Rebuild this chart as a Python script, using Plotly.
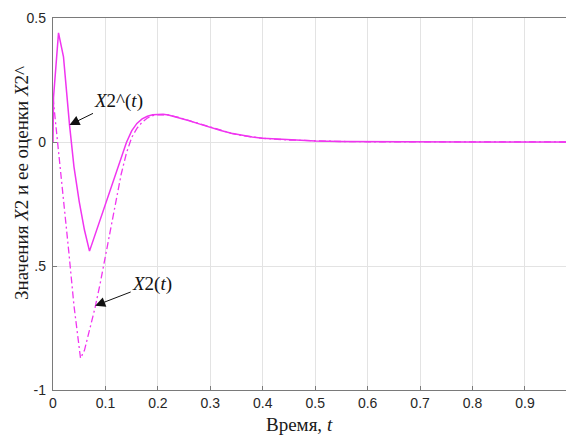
import plotly.graph_objects as go

# Estimated signal X2^(t) (solid)
t_est = [0, 0.001, 0.0105, 0.02, 0.0315, 0.036, 0.04, 0.05, 0.06, 0.0696, 0.08, 0.09, 0.10,
         0.11, 0.12, 0.13, 0.14, 0.15, 0.16, 0.17, 0.18, 0.19, 0.20, 0.21, 0.22, 0.24, 0.26,
         0.28, 0.30, 0.32, 0.34, 0.36, 0.38, 0.40, 0.45, 0.50, 0.55, 0.60, 0.70, 0.80, 0.90, 1.0]
x2_est = [0, 0.18, 0.44, 0.343, 0.069, -0.033, -0.10, -0.24, -0.355, -0.44, -0.375, -0.313, -0.25,
          -0.19, -0.127, -0.065, -0.002, 0.045, 0.075, 0.093, 0.104, 0.110, 0.112, 0.112, 0.109, 0.099, 0.086,
          0.072, 0.058, 0.046, 0.035, 0.026, 0.020, 0.015, 0.008, 0.004, 0.002, 0.001, 0.0, 0.0, 0.0, 0.0]

# True signal X2(t) (dash-dot)
t_true = [0, 0.01, 0.02, 0.03, 0.04, 0.05, 0.0525, 0.06, 0.07, 0.08, 0.09, 0.10, 0.11, 0.12,
          0.13, 0.14, 0.15, 0.16, 0.17, 0.18, 0.19, 0.20, 0.21, 0.22, 0.24, 0.26, 0.28, 0.30,
          0.32, 0.34, 0.36, 0.38, 0.40, 0.45, 0.50, 0.55, 0.60, 0.70, 0.80, 0.90, 1.0]
x2_true = [0.18, -0.02, -0.23, -0.44, -0.66, -0.85, -0.872, -0.84, -0.76, -0.67, -0.57, -0.46, -0.35, -0.24,
           -0.13, -0.045, 0.018, 0.055, 0.08, 0.097, 0.106, 0.110, 0.111, 0.109, 0.099, 0.086, 0.072, 0.058,
           0.046, 0.035, 0.026, 0.020, 0.015, 0.008, 0.004, 0.002, 0.001, 0.0, 0.0, 0.0, 0.0]

x_ticks = [0, 0.1, 0.2, 0.3, 0.4, 0.5, 0.6, 0.7, 0.8, 0.9]
x_ticklabels = ["0", "0.1", "0.2", "0.3", "0.4", "0.5", "0.6", "0.7", "0.8", "0.9"]
y_ticks = [-1, -0.5, 0, 0.5]
y_ticklabels = ["-1", ".5", "0", "0.5"]

MAG = "#f035f0"
SERIF = "Liberation Serif, Times New Roman, serif"
SANS = "Liberation Sans, Arial, sans-serif"

fig = go.Figure()
fig.add_trace(go.Scatter(x=t_true, y=x2_true, mode="lines",
                         line=dict(color=MAG, width=1.3, dash="7px,3px,2px,3px"),
                         showlegend=False))
fig.add_trace(go.Scatter(x=t_est, y=x2_est, mode="lines",
                         line=dict(color=MAG, width=1.5),
                         showlegend=False))

OFF = 8  # page body margin offset
W, H = 574 - OFF, 439 - OFF
L, R, T, B = 53 - OFF, 0, 18 - OFF, 49
plot_w = W - L - R
plot_h = H - T - B
px_per_unit = 524.4
x_max = plot_w / px_per_unit


def px(xp):
    return (xp - OFF - L) / plot_w


def py(yp):
    return ((H - B) - (yp - OFF)) / plot_h


fig.update_layout(
    width=W, height=H,
    margin=dict(l=L, r=R, t=T, b=B),
    paper_bgcolor="white", plot_bgcolor="white",
    font=dict(family=SANS, size=14, color="#262626"),
    xaxis=dict(range=[0, x_max], tickvals=x_ticks, ticktext=x_ticklabels,
               showgrid=True, gridcolor="#e3e3e3", gridwidth=1,
               showline=True, linecolor="#7a7a7a", linewidth=1.3, mirror=True,
               ticks="inside", ticklen=4, tickcolor="#7a7a7a",
               zeroline=False, tickfont=dict(family=SANS, size=14, color="#262626")),
    yaxis=dict(range=[-1, 0.5], tickvals=y_ticks, ticktext=y_ticklabels,
               showgrid=True, gridcolor="#e3e3e3", gridwidth=1,
               showline=True, linecolor="#7a7a7a", linewidth=1.3,
               ticks="inside", ticklen=4, tickcolor="#7a7a7a", ticklabelstandoff=3,
               zeroline=False, tickfont=dict(family=SANS, size=14, color="#262626")),
)

# axis titles
fig.add_annotation(text="Время, <i>t</i>", xref="paper", yref="paper",
                   x=px(299), y=py(425),
                   showarrow=False, font=dict(family=SERIF, size=19, color="#1a1a1a"),
                   xanchor="center", yanchor="middle")
fig.add_annotation(text="Значения <i>X</i>2 и ее оценки <i>X</i>2^", xref="paper", yref="paper",
                   x=px(21), y=py(183),
                   textangle=-90, showarrow=False,
                   font=dict(family=SERIF, size=19, color="#1a1a1a"),
                   xanchor="center", yanchor="middle")
# "1" tick label partially visible at right edge
fig.add_annotation(text="1", xref="paper", yref="paper",
                   x=px(577), y=py(406),
                   showarrow=False, font=dict(family=SANS, size=14, color="#262626"),
                   xanchor="center", yanchor="middle")

# curve labels with arrows
fig.add_annotation(text="<i>X</i>2^(<i>t</i>)", x=0.0315, y=0.069, xref="x", yref="y",
                   ax=49, ay=-24, showarrow=True, arrowhead=2, arrowsize=2,
                   arrowwidth=1, arrowcolor="#111111",
                   font=dict(family=SERIF, size=19, color="#111111"))
fig.add_annotation(text="<i>X</i>2(<i>t</i>)", x=0.0805, y=-0.66, xref="x", yref="y",
                   ax=57, ay=-22, showarrow=True, arrowhead=2, arrowsize=2,
                   arrowwidth=1, arrowcolor="#111111",
                   font=dict(family=SERIF, size=19, color="#111111"))

fig.write_html("out.html")
